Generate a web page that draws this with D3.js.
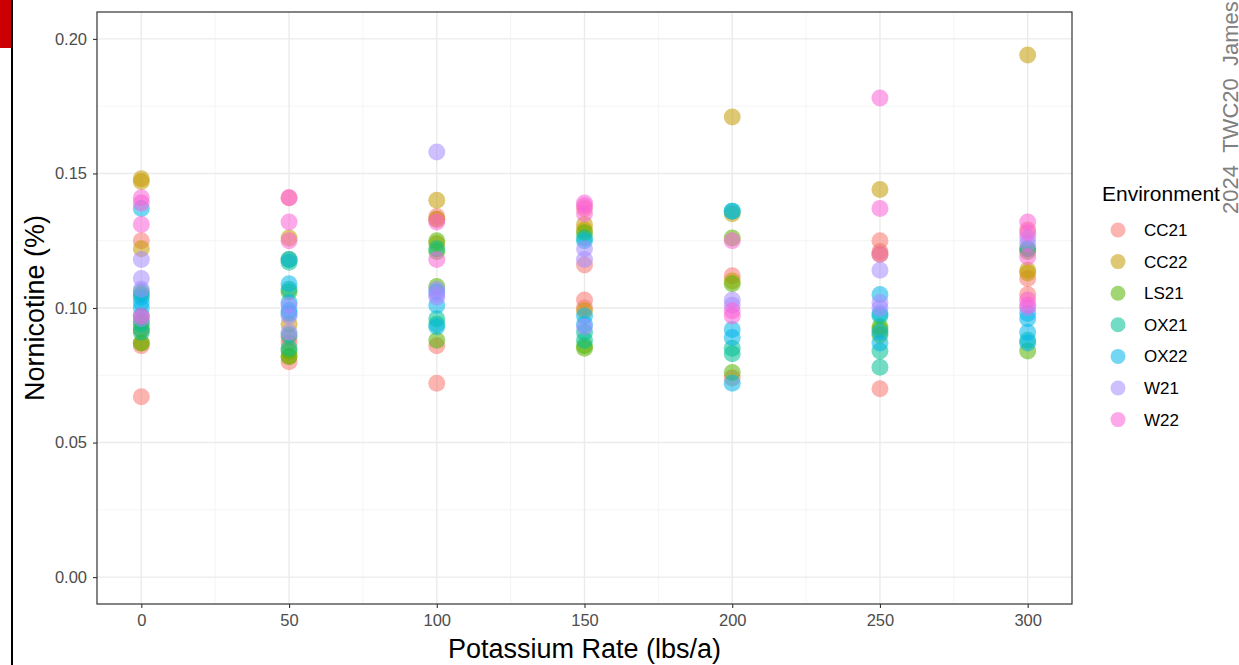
<!DOCTYPE html>
<html>
<head>
<meta charset="utf-8">
<script src="https://cdn.jsdelivr.net/npm/d3@7"></script>
<style>
  html, body { margin: 0; padding: 0; background: #fff; }
  svg { display: block; font-family: Arial, "Liberation Sans", sans-serif; }
</style>
</head>
<body>
<svg id="chart" width="1239" height="665"></svg>
<script>
// ---- data ----
const rates = [0, 50, 100, 150, 200, 250, 300];
const environments = ["CC21", "CC22", "LS21", "OX21", "OX22", "W21", "W22"];
const envColors = ["#F8766D", "#C49A00", "#53B400", "#00C094", "#00B6EB", "#A58AFF", "#FB61D7"];
const xTicks = [0, 50, 100, 150, 200, 250, 300];
const yTicks = [0.00, 0.05, 0.10, 0.15, 0.20];
const yTickLabels = ["0.00", "0.05", "0.10", "0.15", "0.20"];

// values per rate (index matches rates)
const CC21 = [[0.125, 0.092, 0.086, 0.067], [0.141, 0.089, 0.080, 0.087], [0.134, 0.133, 0.086, 0.072], [0.137, 0.116, 0.103, 0.100], [0.112, 0.074], [0.125, 0.121, 0.070], [0.129, 0.122, 0.111, 0.105]];
const CC22 = [[0.148, 0.147, 0.122, 0.087], [0.126, 0.094, 0.082], [0.140, 0.133, 0.124], [0.131, 0.129, 0.099], [0.171, 0.135, 0.110], [0.144, 0.120], [0.194, 0.114, 0.113]];
const LS21 = [[0.105, 0.092, 0.087, 0.095], [0.118, 0.106, 0.084, 0.082], [0.125, 0.121, 0.108, 0.088], [0.128, 0.085, 0.086], [0.126, 0.109, 0.076], [0.093, 0.092, 0.090], [0.121, 0.084]];
const OX21 = [[0.106, 0.097, 0.094, 0.091], [0.117, 0.107, 0.090, 0.085], [0.122, 0.096, 0.094], [0.126, 0.091, 0.088], [0.136, 0.085, 0.083], [0.097, 0.084, 0.078], [0.122, 0.088]];
const OX22 = [[0.137, 0.104, 0.102, 0.100], [0.118, 0.109, 0.102, 0.099, 0.098], [0.106, 0.101, 0.093], [0.125, 0.097, 0.094], [0.136, 0.092, 0.089, 0.072], [0.105, 0.098, 0.091, 0.087], [0.098, 0.096, 0.091, 0.087]];
const W21  = [[0.118, 0.111, 0.107, 0.096], [0.101, 0.091, 0.097], [0.158, 0.107, 0.105, 0.104], [0.122, 0.118, 0.093], [0.103, 0.101], [0.114, 0.102, 0.100], [0.126, 0.124, 0.100]];
const W22  = [[0.141, 0.139, 0.131, 0.097], [0.141, 0.132, 0.125], [0.132, 0.118], [0.139, 0.138, 0.135], [0.125, 0.099, 0.097], [0.178, 0.137, 0.120], [0.132, 0.128, 0.119, 0.103, 0.101]];
const seriesValues = [CC21, CC22, LS21, OX21, OX22, W21, W22];

// ---- build point table ----
const points = [];
environments.forEach((env, ei) => {
  seriesValues[ei].forEach((vals, ri) => {
    vals.forEach(v => points.push({ env, ei, rate: rates[ri], value: v }));
  });
});

const svg = d3.select("#chart");

// decoration at left edge
svg.append("rect").attr("x", 0).attr("y", 0).attr("width", 11).attr("height", 48).attr("fill", "#cc0000");
svg.append("rect").attr("x", 11).attr("y", 0).attr("width", 2).attr("height", 665).attr("fill", "#000");

const panel = { left: 97, top: 12, right: 1072, bottom: 604 };
const x = d3.scaleLinear().domain([-15, 315]).range([panel.left, panel.right]);
const y = d3.scaleLinear().domain([-0.01, 0.21]).range([panel.bottom, panel.top]);

// panel background
svg.append("rect").attr("x", panel.left).attr("y", panel.top)
  .attr("width", panel.right - panel.left).attr("height", panel.bottom - panel.top)
  .attr("fill", "#fff");

// grid
const g = svg.append("g");
const xMinor = d3.range(25, 300, 50);
const yMinor = [0.025, 0.075, 0.125, 0.175];
g.selectAll(".xminor").data(xMinor).enter().append("line")
  .attr("x1", d => x(d)).attr("x2", d => x(d)).attr("y1", panel.top).attr("y2", panel.bottom)
  .attr("stroke", "#f2f2f2").attr("stroke-width", 0.8);
g.selectAll(".yminor").data(yMinor).enter().append("line")
  .attr("y1", d => y(d)).attr("y2", d => y(d)).attr("x1", panel.left).attr("x2", panel.right)
  .attr("stroke", "#f2f2f2").attr("stroke-width", 0.8);
g.selectAll(".xmajor").data(xTicks).enter().append("line")
  .attr("x1", d => x(d)).attr("x2", d => x(d)).attr("y1", panel.top).attr("y2", panel.bottom)
  .attr("stroke", "#ebebeb").attr("stroke-width", 1.4);
g.selectAll(".ymajor").data(yTicks).enter().append("line")
  .attr("y1", d => y(d)).attr("y2", d => y(d)).attr("x1", panel.left).attr("x2", panel.right)
  .attr("stroke", "#ebebeb").attr("stroke-width", 1.4);

// points
svg.append("g").selectAll("circle").data(points).enter().append("circle")
  .attr("cx", d => x(d.rate)).attr("cy", d => y(d.value)).attr("r", 8.5)
  .attr("fill", d => envColors[d.ei]).attr("fill-opacity", 0.55);

// panel border
svg.append("rect").attr("x", panel.left).attr("y", panel.top)
  .attr("width", panel.right - panel.left).attr("height", panel.bottom - panel.top)
  .attr("fill", "none").attr("stroke", "#333333").attr("stroke-width", 1.2);

// axes
const xAxis = d3.axisBottom(x).tickValues(xTicks).tickSize(4).tickPadding(6).tickFormat(d3.format("d"));
const yAxis = d3.axisLeft(y).tickValues(yTicks).tickSize(4).tickPadding(6).tickFormat((d, i) => yTickLabels[i]);
const gx = svg.append("g").attr("transform", `translate(0,${panel.bottom})`).call(xAxis);
const gy = svg.append("g").attr("transform", `translate(${panel.left},0)`).call(yAxis);
[gx, gy].forEach(a => {
  a.select(".domain").remove();
  a.selectAll(".tick line").attr("stroke", "#333333").attr("stroke-width", 1.1);
  a.selectAll(".tick text").attr("fill", "#4d4d4d").style("font-size", "16.5px")
    .style("font-family", "Arial, 'Liberation Sans', sans-serif");
});

// axis titles
svg.append("text").attr("x", (panel.left + panel.right) / 2).attr("y", 658)
  .attr("text-anchor", "middle").attr("fill", "#000").style("font-size", "27px")
  .text("Potassium Rate (lbs/a)");
svg.append("text").attr("transform", `translate(44,${(panel.top + panel.bottom) / 2}) rotate(-90)`)
  .attr("text-anchor", "middle").attr("fill", "#000").style("font-size", "27px")
  .text("Nornicotine (%)");

// legend
const lg = svg.append("g");
lg.append("text").attr("x", 1102).attr("y", 201).style("font-size", "21px").attr("fill", "#000").text("Environment");
const items = lg.selectAll(".item").data(environments).enter().append("g")
  .attr("transform", (d, i) => `translate(0,${230 + i * 31.6})`);
items.append("circle").attr("cx", 1118).attr("cy", 0).attr("r", 7.5)
  .attr("fill", (d, i) => envColors[i]).attr("fill-opacity", 0.55);
items.append("text").attr("x", 1144).attr("y", 6).style("font-size", "17px").attr("fill", "#000").text(d => d);

// right-edge caption
svg.append("text").attr("transform", "translate(1238,214) rotate(-90)")
  .attr("text-anchor", "start").attr("fill", "#808080").style("font-size", "22px")
  .text("2024_TWC20_James.");
</script>
</body>
</html>
